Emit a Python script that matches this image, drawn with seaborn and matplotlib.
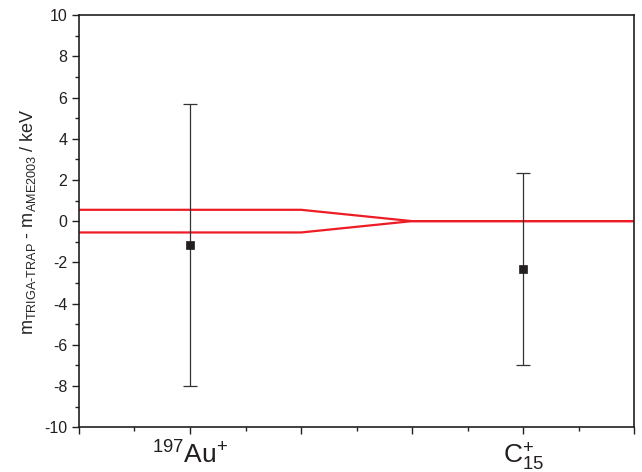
import numpy as np
import matplotlib
matplotlib.use('Agg')
import matplotlib.pyplot as plt
from matplotlib.ticker import MultipleLocator
import pandas as pd
import seaborn as sns

# measured values (keV)
labels = ['$^{197}$Au$^{+}$', 'C$_{15}^{+}$']
pos = [1, 4]
delta = [-1.17, -2.33]
err = [6.85, 4.66]

# AME2003 uncertainty band
band_x = [0, 2, 3, 5]
band_hi = [0.55, 0.55, 0, 0]
band_lo = [-0.55, -0.55, 0, 0]

sns.set_style("ticks")
plt.rcParams['font.family'] = ['Liberation Sans', 'DejaVu Sans']
plt.rcParams['mathtext.fontset'] = 'custom'
plt.rcParams['mathtext.rm'] = 'Liberation Sans'
plt.rcParams['mathtext.it'] = 'Liberation Sans'
plt.rcParams['axes.unicode_minus'] = False

fig = plt.figure(figsize=(6.42, 4.72), dpi=100)
ax = fig.add_axes([0.123, 0.095, 0.865, 0.873])

band = pd.DataFrame({'x': band_x * 2, 'y': band_hi + band_lo,
                     'side': ['hi'] * 4 + ['lo'] * 4})
sns.lineplot(data=band, x='x', y='y', units='side', estimator=None,
             color='#ee1c25', lw=1.6, ax=ax, legend=False)

ax.errorbar(pos, delta, yerr=err, fmt='none', ecolor='#333333',
            elinewidth=0.9, capsize=5, capthick=0.9)
pts = pd.DataFrame({'x': pos, 'y': delta})
sns.scatterplot(data=pts, x='x', y='y', marker='s', s=38, color='#231f20',
                edgecolor='#231f20', ax=ax, zorder=5)

ax.set_xlim(0, 5)
ax.set_ylim(-10, 10)
ax.xaxis.set_major_locator(MultipleLocator(1))
ax.xaxis.set_minor_locator(MultipleLocator(0.5))
ax.yaxis.set_major_locator(MultipleLocator(2))
ax.yaxis.set_minor_locator(MultipleLocator(1))
ax.set_xticks(range(6))
ax.set_xticklabels(['', labels[0], '', '', labels[1], ''], fontsize=19)
ax.tick_params(axis='y', labelsize=11.5, direction='out', length=5, width=1, colors='#231f20')
ax.tick_params(axis='x', direction='out', length=5, width=1, colors='#231f20', pad=5)
ax.tick_params(which='minor', direction='out', length=3, width=1, colors='#231f20')
for s in ax.spines.values():
    s.set_color('#231f20')
    s.set_linewidth(1.2)

ax.set_xlabel('')
ax.set_ylabel('m$_{\\mathregular{TRIGA\\text{-}TRAP}}$ - m$_{\\mathregular{AME2003}}$ / keV',
              fontsize=13, labelpad=4)

fig.savefig('out.png', dpi=100)
